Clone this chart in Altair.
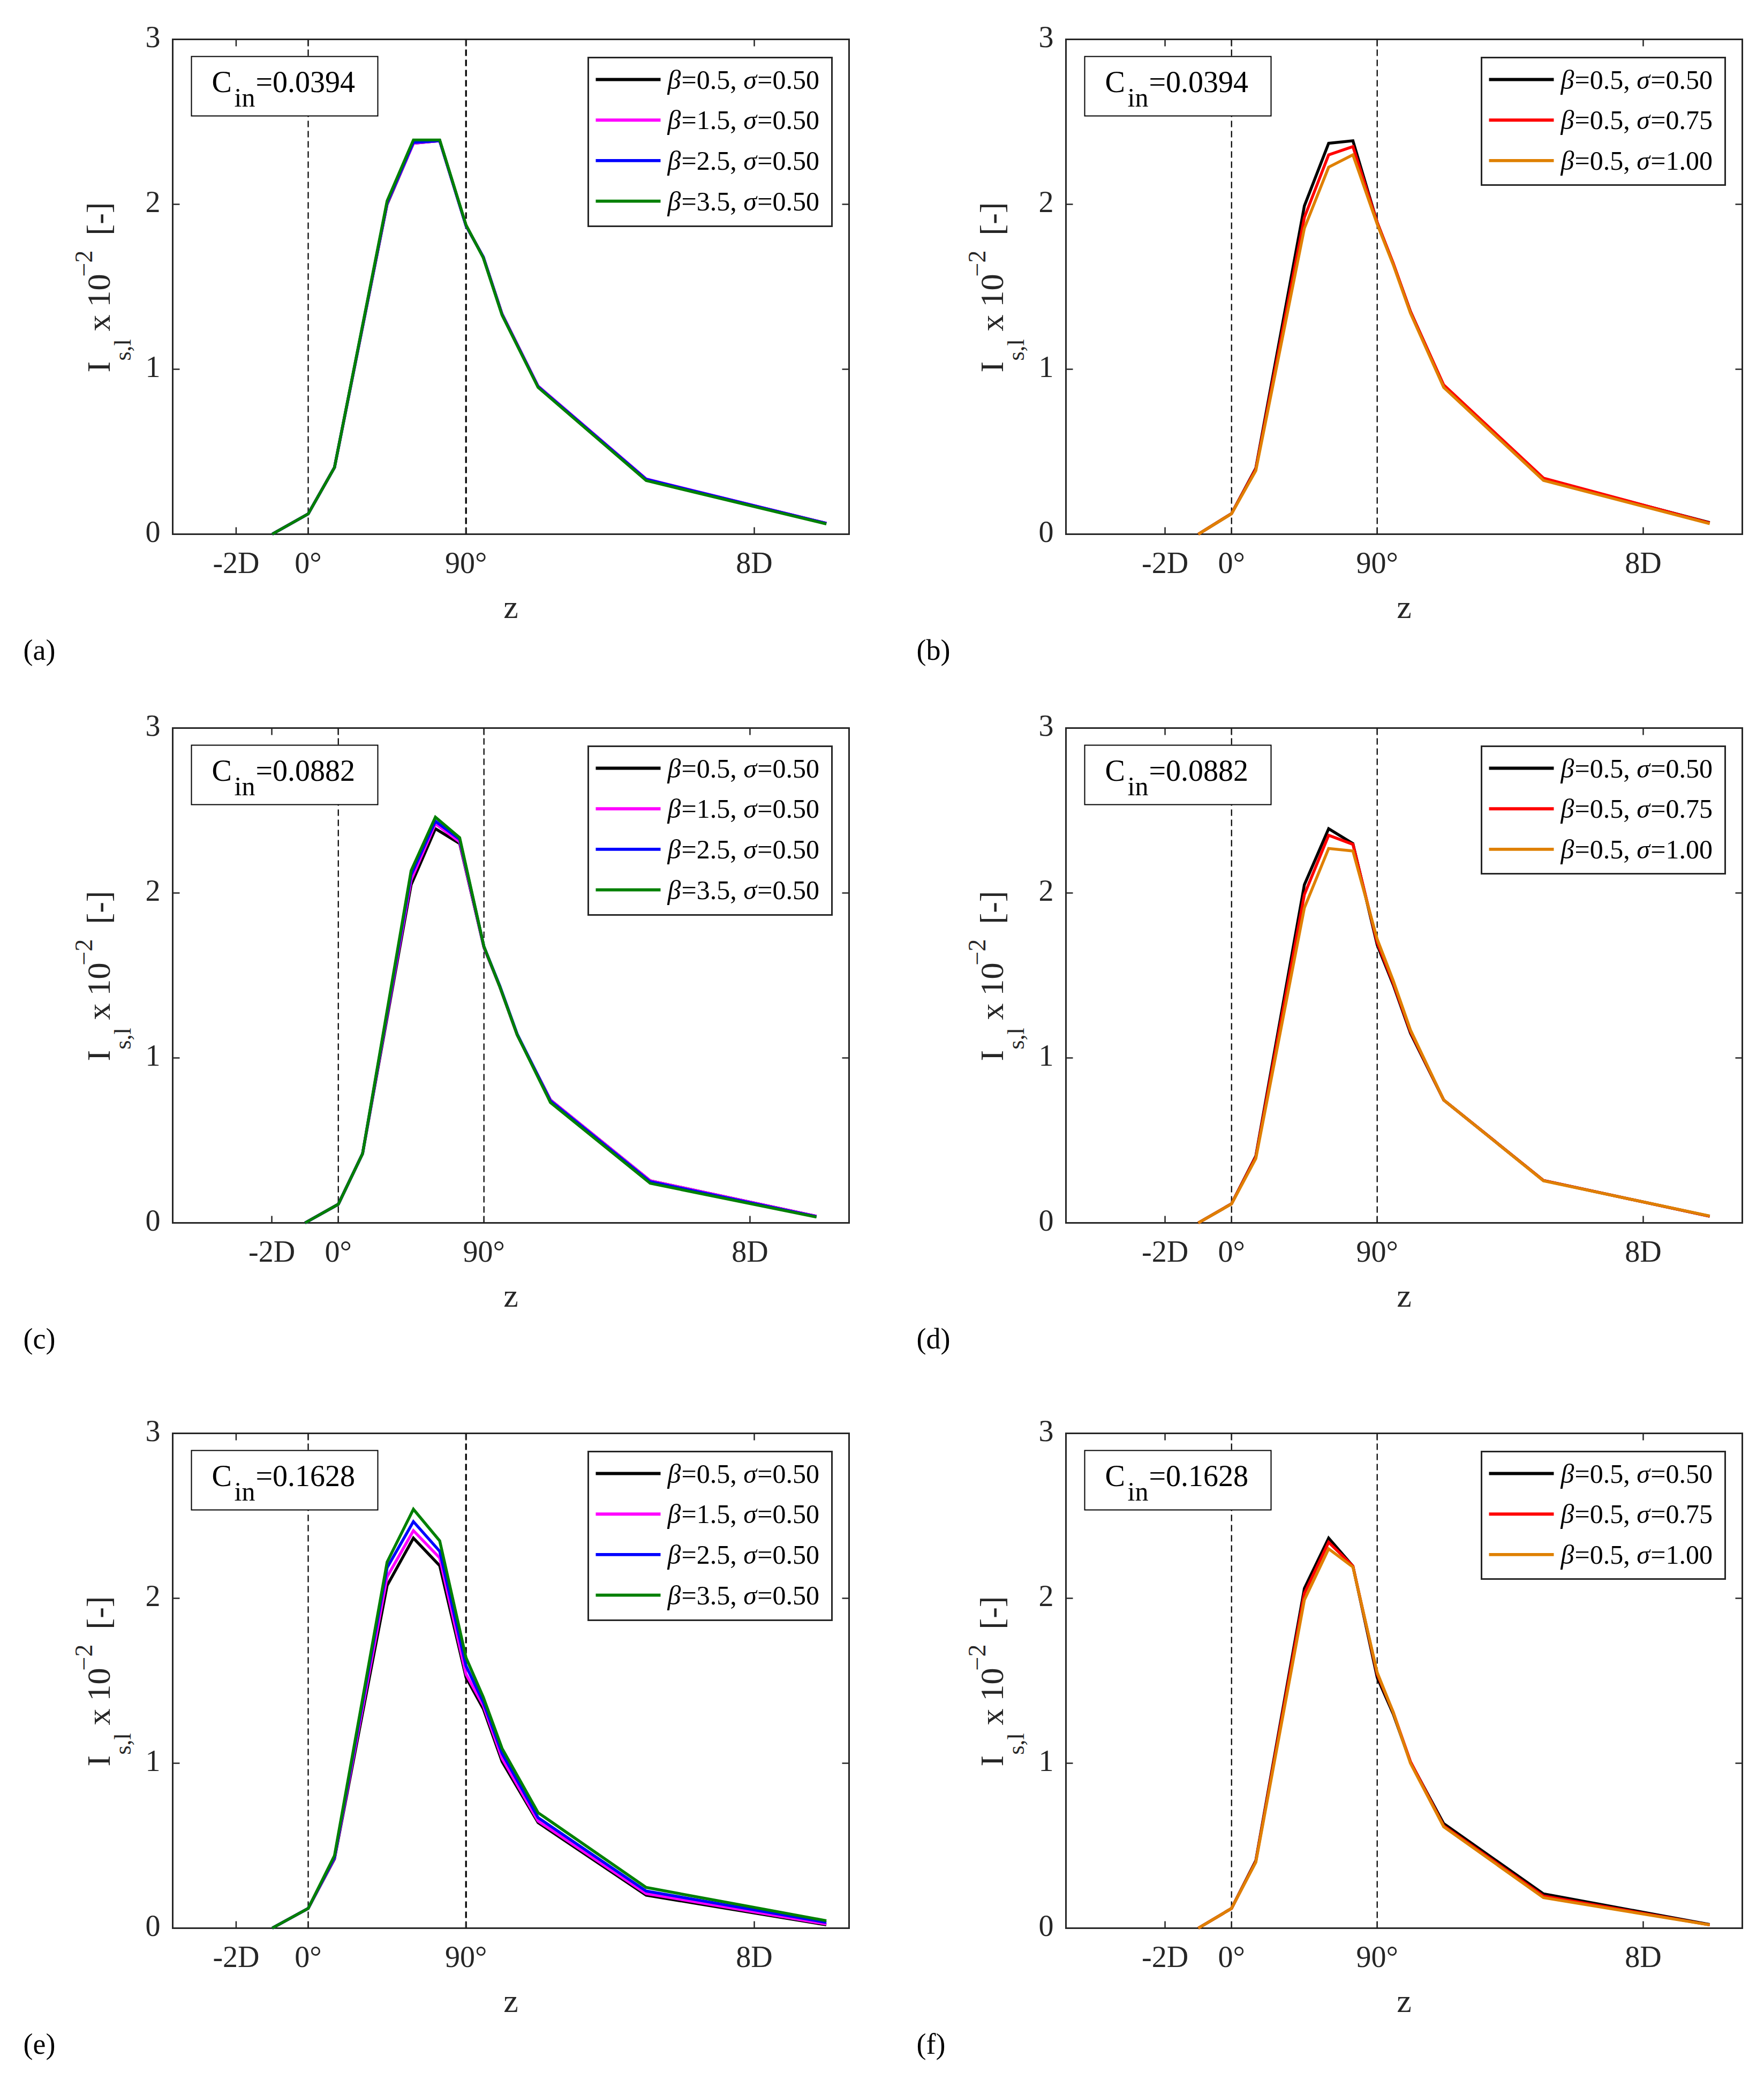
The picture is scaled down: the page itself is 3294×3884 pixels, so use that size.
import altair as alt
import pandas as pd

FONT = "Liberation Serif"
AXC = "#262626"

# ---- shared axis data ----
X_POS = [-1.0, 0.0, 0.73, 2.19, 2.92, 3.65, 4.38, 4.86, 5.38, 6.38, 9.38, 14.38]
BEND_START = 0.0
BEND_END = 4.38
X_TICKS = [-2.0, 0.0, 4.38, 12.38]
X_LABELS = ["-2D", "0°", "90°", "8D"]
Y_TICKS = [0, 1, 2, 3]
Y_LABELS = ["0", "1", "2", "3"]

# legend entries: (beta value text, sigma value text)
BETA_NAMES = [("0.5", "0.50"), ("1.5", "0.50"), ("2.5", "0.50"), ("3.5", "0.50")]
BETA_COLORS = ["#000000", "#FF00FF", "#0000FF", "#008000"]
SIGMA_NAMES = [("0.5", "0.50"), ("0.5", "0.75"), ("0.5", "1.00")]
SIGMA_COLORS = ["#000000", "#FF0000", "#DF8000"]

# ---- panel (a): C_in = 0.0394, beta series ----
A_B05 = [0, 0.123, 0.405, 2.00, 2.37, 2.385, 1.87, 1.68, 1.335, 0.895, 0.332, 0.066]
A_B15 = [0, 0.123, 0.405, 2.005, 2.37, 2.385, 1.87, 1.68, 1.335, 0.898, 0.335, 0.066]
A_B25 = [0, 0.123, 0.405, 2.01, 2.375, 2.385, 1.87, 1.68, 1.332, 0.895, 0.333, 0.065]
A_B35 = [0, 0.123, 0.405, 2.02, 2.39, 2.39, 1.875, 1.675, 1.328, 0.89, 0.325, 0.062]
# ---- panel (b): C_in = 0.0394, sigma series ----
B_S050 = [0, 0.125, 0.40, 1.99, 2.37, 2.385, 1.89, 1.64, 1.35, 0.90, 0.334, 0.07]
B_S075 = [0, 0.125, 0.395, 1.92, 2.30, 2.35, 1.89, 1.645, 1.35, 0.905, 0.34, 0.068]
B_S100 = [0, 0.124, 0.385, 1.855, 2.225, 2.30, 1.88, 1.635, 1.34, 0.89, 0.326, 0.064]
# ---- panel (c): C_in = 0.0882, beta series ----
C_B05 = [0, 0.113, 0.42, 2.05, 2.39, 2.30, 1.67, 1.43, 1.14, 0.745, 0.255, 0.04]
C_B15 = [0, 0.113, 0.42, 2.08, 2.42, 2.31, 1.67, 1.43, 1.14, 0.745, 0.255, 0.04]
C_B25 = [0, 0.113, 0.42, 2.11, 2.435, 2.325, 1.675, 1.435, 1.145, 0.74, 0.25, 0.038]
C_B35 = [0, 0.113, 0.42, 2.135, 2.46, 2.335, 1.675, 1.43, 1.14, 0.73, 0.24, 0.035]
# ---- panel (d): C_in = 0.0882, sigma series ----
D_S050 = [0, 0.116, 0.405, 2.05, 2.39, 2.30, 1.685, 1.445, 1.15, 0.745, 0.257, 0.04]
D_S075 = [0, 0.116, 0.40, 1.99, 2.35, 2.295, 1.70, 1.455, 1.16, 0.745, 0.257, 0.04]
D_S100 = [0, 0.115, 0.39, 1.91, 2.27, 2.255, 1.72, 1.47, 1.17, 0.745, 0.255, 0.042]
# ---- panel (e): C_in = 0.1628, beta series ----
E_B05 = [0, 0.12, 0.42, 2.077, 2.365, 2.198, 1.52, 1.33, 1.01, 0.64, 0.20, 0.02]
E_B15 = [0, 0.12, 0.425, 2.13, 2.41, 2.245, 1.54, 1.35, 1.03, 0.65, 0.21, 0.025]
E_B25 = [0, 0.12, 0.43, 2.185, 2.465, 2.285, 1.59, 1.37, 1.06, 0.67, 0.225, 0.035]
E_B35 = [0, 0.12, 0.44, 2.22, 2.54, 2.348, 1.64, 1.40, 1.09, 0.70, 0.247, 0.045]
# ---- panel (f): C_in = 0.1628, sigma series ----
F_S050 = [0, 0.12, 0.41, 2.06, 2.365, 2.195, 1.52, 1.30, 1.007, 0.634, 0.208, 0.022]
F_S075 = [0, 0.12, 0.405, 2.03, 2.34, 2.195, 1.54, 1.31, 1.01, 0.62, 0.195, 0.02]
F_S100 = [0, 0.12, 0.40, 1.99, 2.30, 2.19, 1.55, 1.31, 1.00, 0.615, 0.185, 0.02]

W, H = 1263, 924
TICK = 13
LINE_W = 5.4

one = pd.DataFrame({"k": [0]})


def txt(s, x, y, size, align="left", angle=0, color="#000000", baseline="alphabetic", italic=False):
    kw = dict(text=s, font=FONT, fontSize=size, align=align, baseline=baseline, color=color)
    if angle:
        kw["angle"] = angle
    if italic:
        kw["fontStyle"] = "italic"
    return alt.Chart(one).mark_text(**kw).encode(x=alt.value(x), y=alt.value(y))


def panel(series, names, colors, cin, letter, xdom, w0, w90, bottom_extra):
    xs = alt.Scale(domain=xdom, nice=False, zero=False)
    ys = alt.Scale(domain=[0, 3], nice=False, zero=False)
    layers = []
    # invisible layout guide (fixes the panel's full bounds)
    layers.append(alt.Chart(one).mark_rule(opacity=0, strokeWidth=1).encode(
        x=alt.value(-279), x2=alt.value(W + 20), y=alt.value(-60), y2=alt.value(H + 250 + bottom_extra)))
    # dashed guide lines at the bend start / end
    layers.append(alt.Chart(pd.DataFrame({"v": [BEND_START]})).mark_rule(
        strokeDash=[12, 7], strokeWidth=w0, color="#000000").encode(x=alt.X("v:Q", scale=xs, axis=None)))
    layers.append(alt.Chart(pd.DataFrame({"v": [BEND_END]})).mark_rule(
        strokeDash=[12, 7], strokeWidth=w90, color="#000000").encode(x=alt.X("v:Q", scale=xs, axis=None)))
    # data lines
    for vals, c in zip(series, colors):
        df = pd.DataFrame({"x": X_POS, "y": vals})
        layers.append(alt.Chart(df).mark_line(color=c, strokeWidth=LINE_W).encode(
            x=alt.X("x:Q", scale=xs, axis=None),
            y=alt.Y("y:Q", scale=ys, axis=None)))
    # inward ticks on all four sides
    yt = pd.DataFrame({"v": Y_TICKS, "lab": Y_LABELS})
    xt = pd.DataFrame({"v": X_TICKS, "lab": X_LABELS})
    layers.append(alt.Chart(yt).mark_rule(color=AXC, strokeWidth=2.5).encode(
        y=alt.Y("v:Q", scale=ys, axis=None), x=alt.value(0), x2=alt.value(TICK)))
    layers.append(alt.Chart(yt).mark_rule(color=AXC, strokeWidth=2.5).encode(
        y=alt.Y("v:Q", scale=ys, axis=None), x=alt.value(W - TICK), x2=alt.value(W)))
    layers.append(alt.Chart(xt).mark_rule(color=AXC, strokeWidth=2.5).encode(
        x=alt.X("v:Q", scale=xs, axis=None), y=alt.value(H - TICK), y2=alt.value(H)))
    layers.append(alt.Chart(xt).mark_rule(color=AXC, strokeWidth=2.5).encode(
        x=alt.X("v:Q", scale=xs, axis=None), y=alt.value(0), y2=alt.value(TICK)))
    # tick labels
    layers.append(alt.Chart(yt).mark_text(font=FONT, fontSize=56, color=AXC, align="right",
                                          baseline="alphabetic", dy=14).encode(
        y=alt.Y("v:Q", scale=ys, axis=None), x=alt.value(-23), text="lab:N"))
    layers.append(alt.Chart(xt).mark_text(font=FONT, fontSize=56, color=AXC, align="center",
                                          baseline="alphabetic").encode(
        x=alt.X("v:Q", scale=xs, axis=None), y=alt.value(H + 72), text="lab:N"))
    # C_in annotation box
    layers.append(alt.Chart(one).mark_rect(fill="white", stroke="#000000", strokeWidth=2).encode(
        x=alt.value(35), x2=alt.value(383), y=alt.value(32), y2=alt.value(143)))
    layers.append(txt("C", 73, 98, 56))
    layers.append(txt("in", 115, 125, 50))
    layers.append(txt("=" + cin, 155, 98, 56))
    # legend box
    n = len(names)
    top = 34
    hgt = 315 if n == 4 else 238
    layers.append(alt.Chart(one).mark_rect(fill="white", stroke=AXC, strokeWidth=3).encode(
        x=alt.value(776), x2=alt.value(1231), y=alt.value(top), y2=alt.value(top + hgt)))
    fs = 50
    for i, ((bv, sv), c) in enumerate(zip(names, colors)):
        yy = top + 41 + 75.7 * i
        base = yy + 17
        layers.append(alt.Chart(one).mark_rule(color=c, strokeWidth=LINE_W + 0.5).encode(
            x=alt.value(790), x2=alt.value(911), y=alt.value(yy)))
        x0 = 924
        layers.append(txt("β", x0, base, fs, italic=True))
        x1 = x0 + 0.52 * fs
        layers.append(txt("=" + bv + ", ", x1, base, fs))
        x2 = x1 + (0.564 + 0.5 + 0.25 + 0.5 + 0.25 + 0.25) * fs
        layers.append(txt("σ", x2, base, fs, italic=True))
        x3 = x2 + 0.52 * fs
        layers.append(txt("=" + sv, x3, base, fs))
    # y-axis title (composed: I_{s,l} x 10^{-2} [-])
    layers.append(txt("I", -118, 622, 62, angle=270, color=AXC))
    layers.append(txt("s,l", -79, 600, 44, angle=270, color=AXC))
    layers.append(txt("x", -118, 545, 62, angle=270, color=AXC))
    layers.append(txt("10", -118, 500, 62, angle=270, color=AXC))
    layers.append(txt("−2", -151, 443, 46, angle=270, color=AXC))
    layers.append(txt("[-]", -118, 366, 62, angle=270, color=AXC))
    # x-axis title and panel letter
    layers.append(txt("z", W / 2, H + 156, 62, align="center", color=AXC))
    layers.append(txt("(" + letter + ")", -279, H + 234, 54))
    return alt.layer(*layers).properties(width=W, height=H)


DOM_AE = [-3.76, 15.01]
DOM_REST = [-4.98, 15.36]

pa = panel([A_B05, A_B15, A_B25, A_B35], BETA_NAMES, BETA_COLORS, "0.0394", "a", DOM_AE, 2.2, 3.2, 0)
pb = panel([B_S050, B_S075, B_S100], SIGMA_NAMES, SIGMA_COLORS, "0.0394", "b", DOM_REST, 2.2, 2.2, 0)
pc = panel([C_B05, C_B15, C_B25, C_B35], BETA_NAMES, BETA_COLORS, "0.0882", "c", DOM_REST, 2.2, 2.2, 31)
pd_ = panel([D_S050, D_S075, D_S100], SIGMA_NAMES, SIGMA_COLORS, "0.0882", "d", DOM_REST, 2.2, 2.2, 31)
pe = panel([E_B05, E_B15, E_B25, E_B35], BETA_NAMES, BETA_COLORS, "0.1628", "e", DOM_AE, 2.2, 3.2, 0)
pf = panel([F_S050, F_S075, F_S100], SIGMA_NAMES, SIGMA_COLORS, "0.1628", "f", DOM_REST, 2.2, 2.2, 0)

row1 = alt.hconcat(pa, pb, spacing=102)
row2 = alt.hconcat(pc, pd_, spacing=102)
row3 = alt.hconcat(pe, pf, spacing=102)

chart = alt.vconcat(row1, row2, row3, spacing=48).properties(
    padding={"left": 33.5, "top": 3.5, "right": 10, "bottom": 10},
    background="white",
).configure_view(
    stroke=AXC, strokeWidth=3
)

chart.save("out.html", embed_options={"renderer": "svg", "actions": False})
